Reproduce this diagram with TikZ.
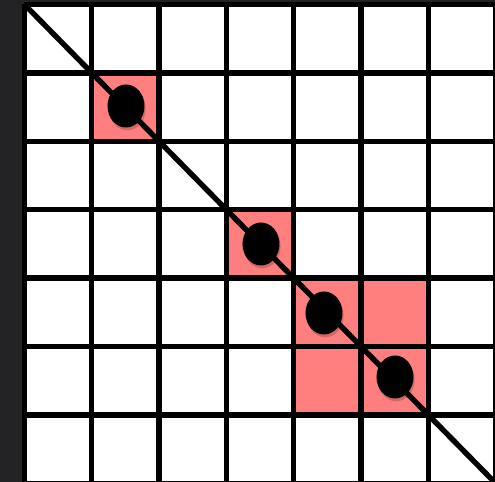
\documentclass[tikz,border=0pt]{standalone}
\usetikzlibrary{shapes.geometric,shadows}
\definecolor{cellpink}{HTML}{FF7F7F}
\definecolor{frame}{HTML}{232326}

\begin{document}
\begin{tikzpicture}[
    x=0.5pt, y=-0.5pt,
    gridline/.style={line width=2.7pt, black},
    marked/.style={fill=cellpink},
    token/.style={ellipse, fill=black, minimum width=18.5pt, minimum height=21.5pt, inner sep=0pt,
        drop shadow={fill=black, opacity=0.18, shadow xshift=0.6pt, shadow yshift=-1.4pt}}
]
    \useasboundingbox (0,0) rectangle (495,482);
    \clip (0,0) rectangle (495,482);

    % Background
    \fill[frame] (0,0) rectangle (495,482);
    \fill[white] (24.5,4.5) rectangle (495,482);

    % Marked cells
    \foreach \c/\r in {1/1,3/3,4/4,5/4,4/5,5/5}
        \fill[marked] ({24.5+67.3*\c},{4.5+68.4*\r}) rectangle ++(67.3,68.4);

    % Grid
    \foreach \i in {0,...,7} {
        \draw[gridline] ({24.5+67.3*\i},4.5) -- ({24.5+67.3*\i},490);
        \draw[gridline] (24.5,{4.5+68.4*\i}) -- (500,{4.5+68.4*\i});
    }

    % Diagonal
    \coordinate (start) at (24.5,4.5);
    \coordinate (end) at (495.6,483.3);
    \draw[gridline] (start) -- (end);

    % Tokens
    \node[token] (t1) at (126,106) {};
    \node[token] (t2) at (261,244) {};
    \node[token] (t3) at (324,313) {};
    \node[token] (t4) at (395,377) {};
\end{tikzpicture}
\end{document}
